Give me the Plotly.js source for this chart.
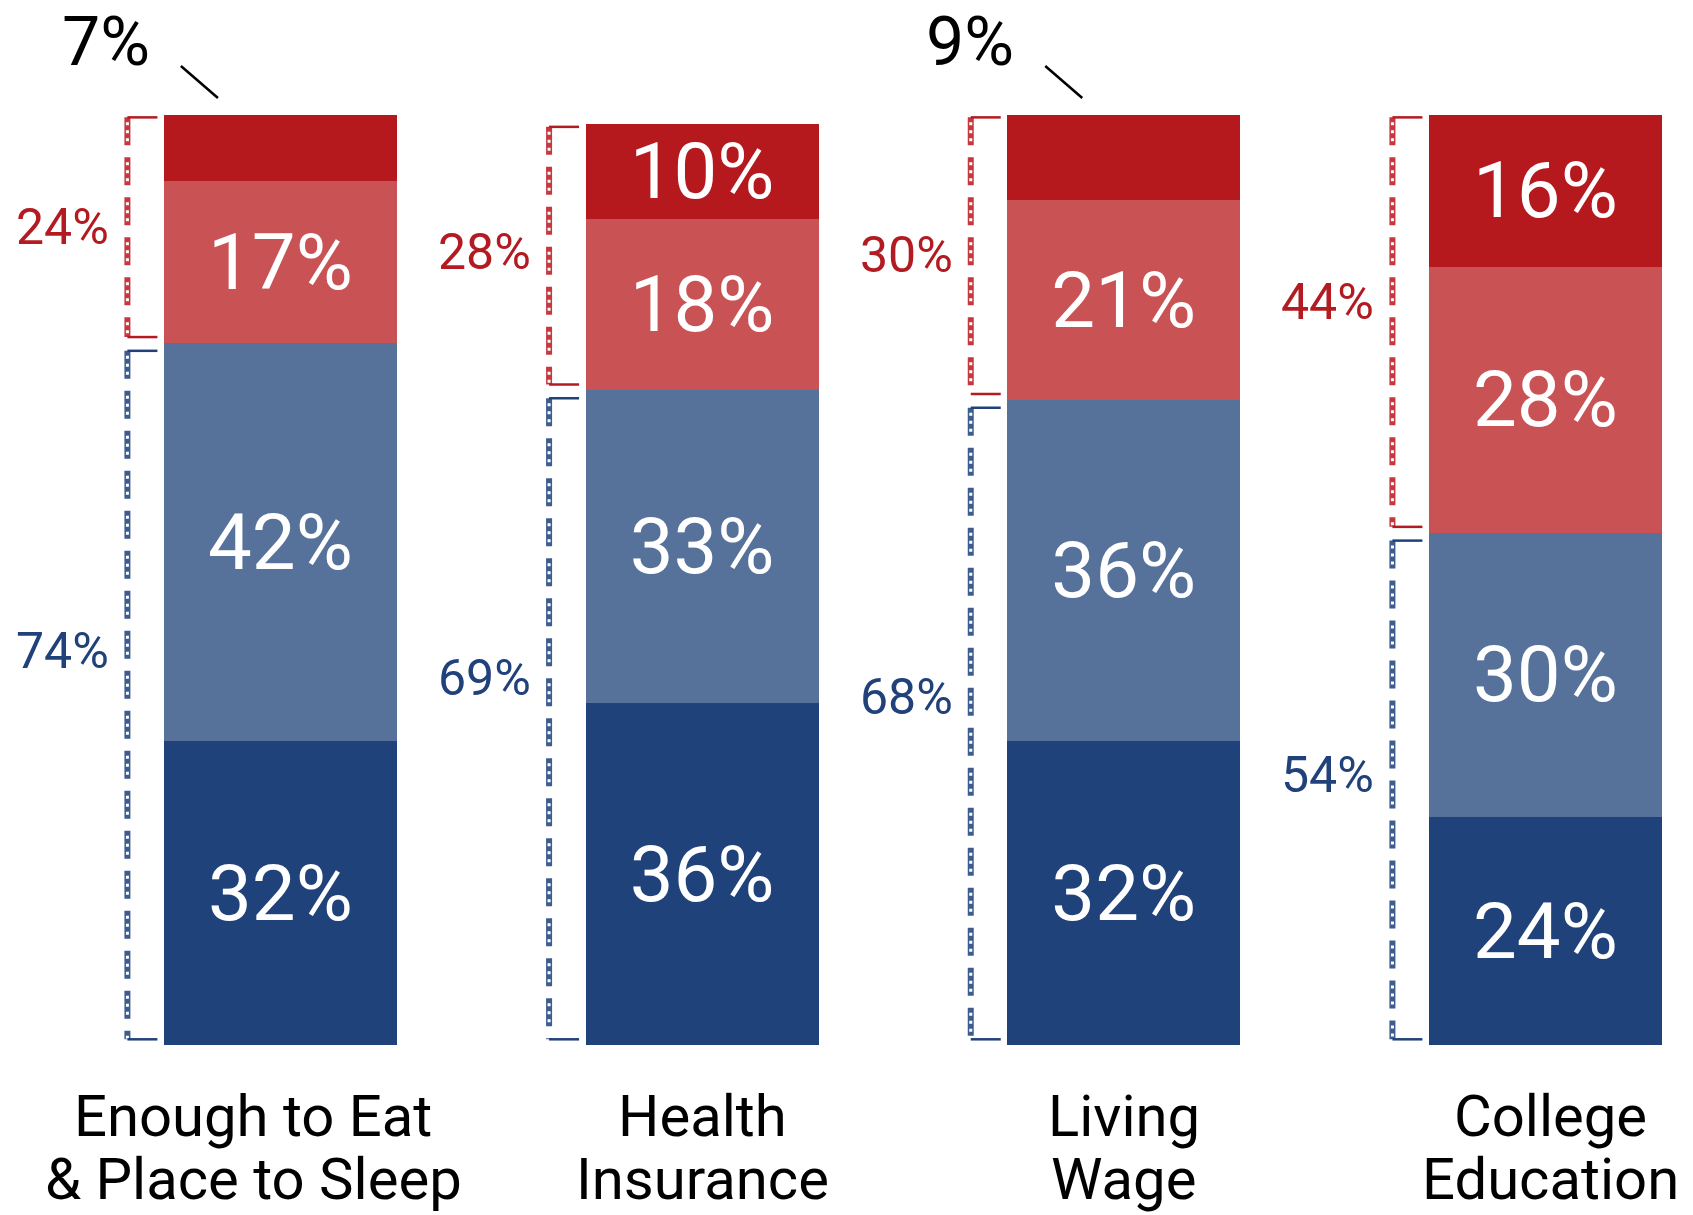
<!DOCTYPE html>
<html>
<head>
<meta charset="utf-8">
<script src="https://cdn.plot.ly/plotly-3.0.1.min.js"></script>
<style>html,body{margin:0;padding:0;background:#fff;}#chart{width:1693px;height:1215px;}</style>
</head>
<body>
<div id="chart"></div>
<script>
// ---- data ----
const categories = ['Enough to Eat<br>& Place to Sleep', 'Health<br>Insurance', 'Living<br>Wage', 'College<br>Education'];
const darkBlue  = [32, 36, 32, 24];
const lightBlue = [42, 33, 36, 30];
const lightRed  = [17, 18, 21, 28];
const darkRed   = [7, 10, 9, 16];

// ---- styling ----
const colors = {darkBlue:'#20427a', lightBlue:'#56729b', lightRed:'#c95255', darkRed:'#b5191e'};
const FONT = 'Roboto, "Open Sans", sans-serif';
const W = 1693, H = 1215;
const margin = {l:0, r:0, t:115, b:170, pad:0};
const xRange = [-0.665, 3.35];
const yRange = [0, 98];
const pxPerX = (W - margin.l - margin.r) / (xRange[1] - xRange[0]);
const pxPerY = (H - margin.t - margin.b) / (yRange[1] - yRange[0]);
const barWidth = 233 / pxPerX;
const xs = categories.map((c, i) => i);
const toPaperX = x => (x - xRange[0]) / (xRange[1] - xRange[0]);
const toPaperY = y => (y - yRange[0]) / (yRange[1] - yRange[0]);

function segText(arr){ return arr.map(v => v >= 10 ? v + '%' : ''); }

function barTrace(vals, color){
  return {
    type:'bar', x: xs, y: vals, width: barWidth,
    marker:{color: color, line:{width:0}},
    text: segText(vals), textposition:'inside', insidetextanchor:'middle',
    constraintext:'none', textangle:0,
    textfont:{family: FONT, size: 78, color:'#ffffff'},
    hoverinfo:'skip'
  };
}

const data = [
  barTrace(darkBlue, colors.darkBlue),
  barTrace(lightBlue, colors.lightBlue),
  barTrace(lightRed, colors.lightRed),
  barTrace(darkRed, colors.darkRed)
];

const shapes = [];
const annotations = [];

const bracketDx = -153 / pxPerX;
const tickDx = -123 / pxPerX;
const redBracket = {dash:'#c5383e', tick:'#b31b22', label:'#b31b22'};
const blueBracket = {dash:'#3d5d8f', tick:'#21417a', label:'#21417a'};
const redLabelShift = [0, 4, 1, 20];
const blueLabelShift = [44, 41, 27, 15];

function bracket(i, top, bottom, style, labelText, shift){
  const bx = i + bracketDx;
  shapes.push({type:'line', xref:'x', yref:'y', x0:bx, x1:bx, y0:top, y1:bottom,
    line:{color:style.dash, width:6, dash:'28px,12px'}, layer:'above'});
  shapes.push({type:'line', xref:'x', yref:'y', x0:bx, x1:bx, y0:top, y1:bottom,
    line:{color:'#ffffff', width:3, dash:'0px,5px,3px,5px,3px,5px,3px,16px'}, layer:'above'});
  [top, bottom].forEach(yv => shapes.push({type:'line', xref:'x', yref:'y',
    x0:bx, x1:i + tickDx, y0:yv, y1:yv, line:{color:style.tick, width:2.5}, layer:'above'}));
  annotations.push({xref:'x', yref:'y', x:bx, y:(top + bottom) / 2, xanchor:'right', yanchor:'middle',
    xshift:-16, yshift:shift, text:labelText, showarrow:false,
    font:{family:FONT, size:50, color:style.label}});
}

// small top-segment labels placed above the bar
const smallLabelDx = {0:-174.5, 2:-153.5};

categories.forEach((cat, i) => {
  const blueSum = darkBlue[i] + lightBlue[i];
  const redSum = lightRed[i] + darkRed[i];
  const total = blueSum + redSum;
  bracket(i, total - 0.25, blueSum + 0.6, redBracket, redSum + '%', redLabelShift[i]);
  bracket(i, blueSum - 0.85, 0.6, blueBracket, blueSum + '%', blueLabelShift[i]);

  if (darkRed[i] < 10) {
    const dxPx = smallLabelDx[i] !== undefined ? smallLabelDx[i] : -160;
    const lx = i + dxPx / pxPerX;
    const ly = total + 73 / pxPerY;
    annotations.push({xref:'paper', yref:'paper', x:toPaperX(lx), y:toPaperY(ly),
      xanchor:'center', yanchor:'middle',
      text: darkRed[i] + '%', showarrow:false, font:{family:FONT, size:68, color:'#000000'}});
    shapes.push({type:'line', xref:'paper', yref:'paper',
      x0: toPaperX(lx + 75 / pxPerX), y0: toPaperY(ly - 24 / pxPerY),
      x1: toPaperX(lx + 112 / pxPerX), y1: toPaperY(ly - 56 / pxPerY),
      line:{color:'#000000', width:2.5}});
  }

  // category label lines
  const catShift = [-27, 0, 0, 5][i];
  cat.split('<br>').forEach((line, k) => {
    annotations.push({xref:'x', yref:'y', x:i, y:0, xanchor:'center', yanchor:'middle',
      xshift:catShift, yshift: -71 - 63 * k, text:line, showarrow:false,
      font:{family:FONT, size:58, color:'#000000'}});
  });
});

const layout = {
  width:W, height:H, margin:margin,
  paper_bgcolor:'#ffffff', plot_bgcolor:'#ffffff',
  barmode:'stack', showlegend:false,
  xaxis:{range:xRange, visible:false, fixedrange:true},
  yaxis:{range:yRange, visible:false, fixedrange:true},
  shapes:shapes, annotations:annotations,
  font:{family:FONT}
};

Plotly.newPlot('chart', data, layout, {displayModeBar:false, staticPlot:true});
</script>
</body>
</html>
